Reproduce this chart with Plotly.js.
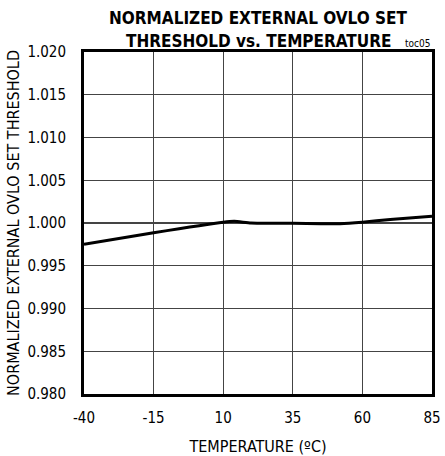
<!DOCTYPE html>
<html>
<head>
<meta charset="utf-8">
<script src="https://cdn.plot.ly/plotly-3.0.1.min.js"></script>
<style>
  html, body { margin: 0; padding: 0; background: #fff; }
  #chart { width: 445px; height: 456px; }
</style>
</head>
<body>
<div id="chart"></div>
<script>
// Normalized external OVLO set threshold measured across temperature
const temperatureC = [-40, -15, 10, 14, 20, 35, 45, 52, 60, 70, 85];
const normalizedThreshold = [0.9975, 0.99887, 1.0001, 1.0002, 1.0000, 0.99996, 0.9999, 0.99992, 1.0001, 1.0004, 1.00078];

const xTicks = [-40, -15, 10, 35, 60, 85];
const yTicks = [0.980, 0.985, 0.990, 0.995, 1.000, 1.005, 1.010, 1.015, 1.020];

const titleLines = ['NORMALIZED EXTERNAL OVLO SET', 'THRESHOLD vs. TEMPERATURE'];

const FONT = "'DejaVu Sans Condensed', 'Liberation Sans Narrow', 'Arial Narrow', sans-serif";

const trace = {
  x: temperatureC,
  y: normalizedThreshold,
  type: 'scatter',
  mode: 'lines',
  line: { color: '#000', width: 3, shape: 'spline', smoothing: 0.5 },
  hoverinfo: 'skip'
};

const layout = {
  width: 445,
  height: 456,
  margin: { l: 84, r: 13, t: 52, b: 62 },
  paper_bgcolor: '#fff',
  plot_bgcolor: '#fff',
  showlegend: false,
  font: { family: FONT, color: '#000', size: 15 },
  xaxis: {
    range: [-40, 85],
    tickmode: 'array',
    tickvals: xTicks,
    ticktext: xTicks.map(String),
    showgrid: true,
    gridcolor: '#444',
    gridwidth: 1.2,
    zeroline: false,
    showline: true,
    linecolor: '#000',
    linewidth: 3,
    mirror: true,
    ticks: '',
    ticklen: 0,
    ticklabelstandoff: 8,
    tickfont: { family: FONT, size: 15 },
    title: { text: 'TEMPERATURE (ºC)', font: { family: FONT, size: 16 }, standoff: 15 }
  },
  yaxis: {
    range: [0.980, 1.020],
    tickmode: 'array',
    tickvals: yTicks,
    ticktext: yTicks.map(v => v.toFixed(3)),
    showgrid: true,
    gridcolor: '#444',
    gridwidth: 1.2,
    zeroline: false,
    showline: true,
    linecolor: '#000',
    linewidth: 3,
    mirror: true,
    ticks: '',
    ticklen: 0,
    ticklabelstandoff: 12,
    tickfont: { family: FONT, size: 15 },
    title: { text: 'NORMALIZED EXTERNAL OVLO SET THRESHOLD', font: { family: FONT, size: 16 }, standoff: 4 }
  },
  annotations: [
    {
      // chart title, first line
      text: '<b>' + titleLines[0] + '</b>',
      xref: 'paper', yref: 'paper', x: 0.5, y: 1,
      xanchor: 'center', yanchor: 'middle', yshift: 34,
      showarrow: false,
      font: { family: FONT, size: 17, color: '#000' }
    },
    {
      // chart title, second line
      text: '<b>' + titleLines[1] + '</b>',
      xref: 'paper', yref: 'paper', x: 0.5, y: 1,
      xanchor: 'center', yanchor: 'middle', yshift: 11,
      showarrow: false,
      font: { family: FONT, size: 17, color: '#000' }
    },
    {
      text: 'toc05',
      xref: 'paper', yref: 'paper',
      x: 1.0, y: 1.0,
      xanchor: 'right', yanchor: 'bottom',
      yshift: 1,
      showarrow: false,
      font: { family: FONT, size: 10, color: '#000' }
    }
  ]
};

Plotly.newPlot('chart', [trace], layout, { staticPlot: true, displayModeBar: false });
</script>
</body>
</html>
